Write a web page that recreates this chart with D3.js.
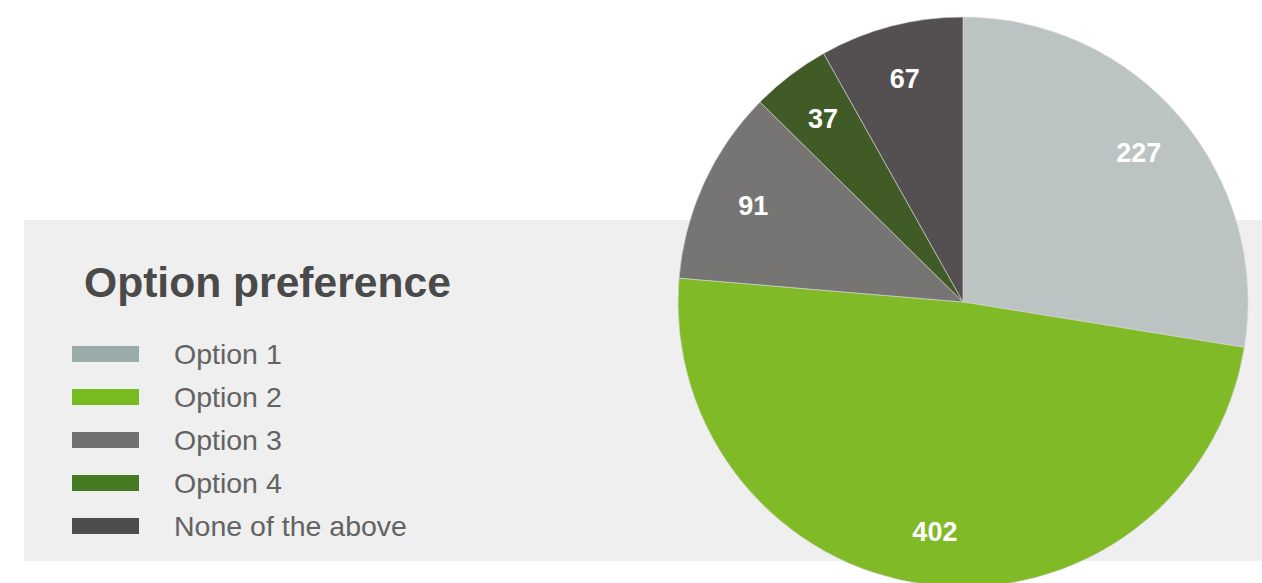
<!DOCTYPE html>
<html>
<head>
<meta charset="utf-8">
<script src="https://cdn.jsdelivr.net/npm/d3@7"></script>
<style>
  html, body { margin: 0; padding: 0; background: #fff; }
  svg { display: block; font-family: "Liberation Sans", Arial, sans-serif; }
</style>
</head>
<body>
<svg id="chart"></svg>
<script>
// chart data
const categories = ["Option 1", "Option 2", "Option 3", "Option 4", "None of the above"];
const values = [227, 402, 91, 37, 67];
const title = "Option preference";

// colours: pie slices and legend swatches are slightly different in the original
const sliceColors = ["#bcc4c3", "#80ba27", "#777573", "#405b26", "#545051"];
const swatchColors = ["#9aaca9", "#76bc21", "#707070", "#467a22", "#4d4d4f"];

// canvas
const width = 1262;
const height = 583;

const svg = d3.select("#chart")
    .attr("width", width)
    .attr("height", height);

// grey legend panel
svg.append("rect")
    .attr("x", 24)
    .attr("y", 220)
    .attr("width", width - 24)
    .attr("height", 341)
    .attr("fill", "#efefef");

// title
svg.append("text")
    .attr("x", 84)
    .attr("y", 297)
    .attr("font-size", 42.6)
    .attr("font-weight", "bold")
    .attr("fill", "#4a4a4a")
    .text(title);

// legend rows
const rowY = d3.scaleBand()
    .domain(categories)
    .range([333, 548]);

const legend = svg.append("g").selectAll("g")
    .data(categories)
    .enter().append("g")
    .attr("transform", function (d) { return "translate(0," + rowY(d) + ")"; });

legend.append("rect")
    .attr("x", 72)
    .attr("y", 13)
    .attr("width", 67)
    .attr("height", 16)
    .attr("fill", function (d, i) { return swatchColors[i]; });

legend.append("text")
    .attr("x", 174)
    .attr("y", 31)
    .attr("font-size", 28.5)
    .attr("fill", "#636363")
    .text(function (d) { return d; });

// pie
const cx = 963, cy = 302, radius = 285;

const pie = d3.pie()
    .sort(null)
    .value(function (d) { return d; });

const arc = d3.arc()
    .innerRadius(0)
    .outerRadius(radius);

const labelArc = d3.arc()
    .innerRadius(radius * 0.81)
    .outerRadius(radius * 0.81);

const g = svg.append("g")
    .attr("transform", "translate(" + cx + "," + cy + ")");

const slices = pie(values);

g.selectAll("path")
    .data(slices)
    .enter().append("path")
    .attr("d", arc)
    .attr("fill", function (d, i) { return sliceColors[i]; })
    .attr("stroke", "#d8d8d8")
    .attr("stroke-width", 0.6);

// value labels inside the slices
g.selectAll(".label")
    .data(slices)
    .enter().append("text")
    .attr("class", "label")
    .attr("transform", function (d) { return "translate(" + labelArc.centroid(d) + ")"; })
    .attr("text-anchor", "middle")
    .attr("dy", "0.36em")
    .attr("font-size", 27)
    .attr("font-weight", "bold")
    .attr("fill", "#fff")
    .text(function (d) { return d.data; });
</script>
</body>
</html>
